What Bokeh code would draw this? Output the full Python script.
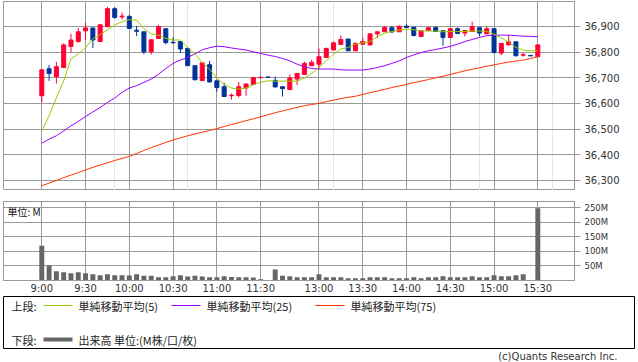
from bokeh.plotting import figure
from bokeh.models import (Range1d, FixedTicker, NumeralTickFormatter, PrintfTickFormatter,
                          ColumnDataSource, Label, Grid)
from bokeh.layouts import column
from bokeh.embed import file_html
from bokeh.resources import INLINE
from bokeh.core.properties import value

# ---------------- data (5-minute bars, slot index; slot 31 = lunch filler) ----------------
slots = list(range(69))

tick_slots = [0, 6, 12, 18, 24, 30, 38, 44, 50, 56, 62, 68]
tick_labels = ["9:00", "9:30", "10:00", "10:30", "11:00", "11:30",
               "13:00", "13:30", "14:00", "14:30", "15:00", "15:30"]

opens = [36630, 36735, 36704, 36740, 36822, 36841, 36883, 36894, 36841, 36899,
         36969, 36937, 36939, 36885, 36879, 36801, 36853, 36891, 36838, 36841,
         36814, 36747, 36689, 36751, 36688, 36665, 36630, 36631, 36660, 36674,
         36700, 36703, 36690, 36665, 36654, 36695, 36713, 36747, 36753, 36779,
         36808, 36830, 36851, 36805, 36831, 36828, 36871, 36879, 36895, 36879,
         36901, 36897, 36861, 36884, 36896, 36883, 36857, 36891, 36874, 36880,
         36895, 36871, 36891, 36796, 36828, 36840, 36788, 36787, 36782]
highs = [36731, 36750, 36762, 36834, 36871, 36894, 36914, 36894, 36910, 36976,
         36976, 36954, 36945, 36902, 36879, 36848, 36906, 36891, 36857, 36841,
         36818, 36747, 36758, 36766, 36688, 36680, 36639, 36684, 36676, 36704,
         36703, 36703, 36705, 36665, 36712, 36717, 36763, 36770, 36814, 36818,
         36841, 36865, 36851, 36837, 36856, 36871, 36879, 36902, 36902, 36905,
         36910, 36897, 36883, 36898, 36899, 36883, 36891, 36896, 36884, 36918,
         36895, 36899, 36891, 36834, 36866, 36840, 36797, 36787, 36828]
lows = [36604, 36688, 36678, 36740, 36798, 36837, 36847, 36816, 36841, 36899,
        36930, 36927, 36892, 36862, 36792, 36791, 36853, 36830, 36834, 36796,
        36747, 36692, 36689, 36680, 36646, 36627, 36615, 36623, 36630, 36674,
        36699, 36702, 36664, 36627, 36654, 36671, 36713, 36747, 36734, 36779,
        36808, 36830, 36805, 36805, 36827, 36825, 36855, 36879, 36874, 36879,
        36896, 36861, 36861, 36884, 36880, 36825, 36857, 36872, 36861, 36880,
        36861, 36871, 36798, 36788, 36828, 36782, 36782, 36785, 36782]
closes = [36731, 36717, 36743, 36828, 36847, 36879, 36894, 36847, 36906, 36969,
          36935, 36940, 36892, 36881, 36801, 36848, 36899, 36837, 36836, 36812,
          36747, 36692, 36758, 36684, 36662, 36627, 36632, 36665, 36676, 36700,
          36702, 36702, 36664, 36658, 36699, 36717, 36756, 36760, 36782, 36814,
          36836, 36849, 36805, 36834, 36841, 36871, 36879, 36896, 36879, 36900,
          36896, 36865, 36883, 36895, 36880, 36857, 36891, 36872, 36884, 36899,
          36874, 36891, 36798, 36834, 36840, 36786, 36790, 36785, 36828]

ma5 = [36493, 36552, 36622, 36688, 36774, 36793, 36817, 36852, 36868, 36887,
       36906, 36918, 36926, 36925, 36891, 36871, 36866, 36853, 36847, 36847,
       36818, 36792, 36759, 36734, 36699, 36675, 36660, 36656, 36660, 36673,
       36683, 36688, 36687, 36687, 36687, 36687, 36699, 36717, 36740, 36766,
       36792, 36812, 36818, 36831, 36836, 36841, 36860, 36874, 36880, 36886,
       36890, 36887, 36883, 36882, 36882, 36879, 36880, 36880, 36880, 36882,
       36882, 36880, 36870, 36855, 36839, 36818, 36808, 36805, 36805]
ma25 = [36445, 36461, 36474, 36493, 36513, 36530, 36549, 36567, 36584, 36604,
        36621, 36643, 36660, 36669, 36682, 36695, 36714, 36736, 36756, 36769,
        36779, 36793, 36809, 36817, 36823, 36821, 36816, 36812, 36808, 36801,
        36795, 36788, 36783, 36775, 36766, 36753, 36743, 36736, 36734, 36734,
        36734, 36731, 36730, 36730, 36730, 36734, 36740, 36747, 36756, 36766,
        36779, 36789, 36798, 36805, 36810, 36816, 36822, 36831, 36841, 36849,
        36857, 36864, 36866, 36866, 36866, 36864, 36862, 36861, 36860]
ma75 = [36279, 36290, 36300, 36311, 36321, 36331, 36341, 36351, 36360, 36369,
        36378, 36386, 36394, 36405, 36417, 36428, 36438, 36448, 36458, 36466,
        36474, 36481, 36488, 36495, 36502, 36510, 36518, 36525, 36533, 36540,
        36548, 36556, 36564, 36571, 36578, 36585, 36591, 36596, 36600, 36607,
        36613, 36619, 36624, 36628, 36635, 36642, 36648, 36655, 36662, 36668,
        36674, 36681, 36687, 36693, 36700, 36706, 36713, 36720, 36727, 36733,
        36739, 36745, 36750, 36756, 36761, 36765, 36769, 36775, 36782]

volumes_m = [120, 52, 32, 28, 25, 28, 25, 21.5, 18, 21.5,
             18, 18, 17, 21.5, 16, 16, 11, 11, 15, 18,
             14, 16, 14, 11, 11, 15, 12, 11, 11, 10,
             4.5, 0, 38, 16, 15, 11, 11, 11, 21.5, 11,
             11, 11, 8, 8, 8, 11, 11, 11, 8, 8,
             8, 11, 8, 11, 11, 15, 11, 11, 11, 15,
             11, 11, 18, 15, 15, 18, 21.5, 2, 249]

price_ticks = [36300, 36400, 36500, 36600, 36700, 36800, 36900]
volume_ticks = [50, 100, 150, 200, 250]

legend_labels = ["単純移動平均(5)", "単純移動平均(25)", "単純移動平均(75)"]
volume_legend_label = "出来高 単位:(M株/口/枚)"

# ---------------- styles ----------------
UP = "#FF0033"
DOWN = "#003399"
MA_COLORS = ["#99CC00", "#9900FF", "#FF3300"]
VOL_COLOR = "#666666"
GRID = "#999999"
TXT = "#333333"
JP_FONT = "Noto Sans CJK JP"
LAT_FONT = "DejaVu Sans"

x_range = Range1d(-5.25, 73.03)

# ---------------- price chart ----------------
p = figure(frame_width=571, frame_height=189, x_range=x_range, y_range=Range1d(36261, 36997),
           x_axis_location=None, y_axis_location="right", toolbar_location=None,
           output_backend="svg", min_border_left=3, min_border_right=64,
           min_border_top=1, min_border_bottom=0, outline_line_color=GRID,
           background_fill_color="white", border_fill_color="white")
p.add_layout(Grid(dimension=0, ticker=FixedTicker(ticks=tick_slots),
                  grid_line_color=GRID, grid_line_width=1))
p.yaxis.ticker = FixedTicker(ticks=price_ticks)
p.yaxis.formatter = NumeralTickFormatter(format="0,0")
p.ygrid.grid_line_color = GRID

colors = [UP if c >= o else DOWN for o, c in zip(opens, closes)]
src = ColumnDataSource(dict(
    x=slots, h=highs, l=lows,
    top=[max(o, c) for o, c in zip(opens, closes)],
    bottom=[min(o, c) for o, c in zip(opens, closes)],
    color=colors))
p.segment(x0="x", y0="h", x1="x", y1="l", source=src, line_color="color", line_width=1)
p.vbar(x="x", width=0.55, top="top", bottom="bottom", source=src,
       fill_color="color", line_color="color", line_width=1)

p.line(slots, ma75, line_color=MA_COLORS[2], line_width=1)
p.line(slots, ma25, line_color=MA_COLORS[1], line_width=1)
p.line(slots, ma5, line_color=MA_COLORS[0], line_width=1)

# ---------------- volume chart ----------------
v = figure(frame_width=571, frame_height=79, x_range=x_range, y_range=Range1d(0, 272),
           y_axis_location="right", toolbar_location=None, output_backend="svg",
           min_border_left=3, min_border_right=64, min_border_top=11, min_border_bottom=14,
           outline_line_color=GRID, background_fill_color="white", border_fill_color="white")
v.xaxis.ticker = FixedTicker(ticks=tick_slots)
v.xaxis.major_label_overrides = {s: l for s, l in zip(tick_slots, tick_labels)}
v.yaxis.ticker = FixedTicker(ticks=volume_ticks)
v.yaxis.formatter = PrintfTickFormatter(format="%dM")
v.grid.grid_line_color = GRID
v.vbar(x=slots, top=volumes_m, width=0.68, fill_color=VOL_COLOR, line_color=None)
v.add_layout(Label(x=-4.7, y=262, text="単位: M", text_baseline="top",
                   text_font=JP_FONT, text_font_size="10px", text_color="#111111"))

for ax in (p.yaxis[0], v.yaxis[0]):
    ax.major_tick_out = 6
    ax.major_tick_in = 0
    ax.minor_tick_line_color = None
    ax.axis_line_color = GRID
    ax.major_tick_line_color = GRID
    ax.major_label_standoff = 4
    ax.major_label_text_font = LAT_FONT
    ax.major_label_text_color = TXT
p.yaxis.major_label_text_font_size = "10px"
v.yaxis.major_label_text_font_size = "8.5px"

xa = v.xaxis[0]
xa.major_tick_out = 0
xa.major_tick_in = 0
xa.minor_tick_line_color = None
xa.axis_line_color = GRID
xa.major_label_standoff = 2
xa.major_label_text_font = LAT_FONT
xa.major_label_text_font_size = "10px"
xa.major_label_text_color = TXT

# ---------------- legend box ----------------
lg = figure(frame_width=631, frame_height=53, x_range=Range1d(0, 631), y_range=Range1d(53, 0),
            x_axis_location=None, y_axis_location=None, toolbar_location=None,
            output_backend="svg", min_border_left=3, min_border_right=4,
            min_border_top=0, min_border_bottom=0, outline_line_color="#000000",
            background_fill_color="white", border_fill_color="white")
lg.grid.visible = False
row1, row2 = 9, 43
line_x0 = [40, 168, 312]
lg.segment(x0=line_x0, y0=[row1] * 3, x1=[x + 29 for x in line_x0], y1=[row1] * 3,
           line_color=MA_COLORS, line_width=1)
lg.segment(x0=[40], y0=[row2], x1=[69], y1=[row2], line_color=VOL_COLOR, line_width=4)
lg.text(x=[8, 8] + [x + 35 for x in line_x0] + [75],
        y=[row1, row2] + [row1] * 3 + [row2],
        text=["上段:", "下段:"] + legend_labels + [volume_legend_label],
        text_font=value(JP_FONT), text_font_size=value("11px"),
        text_baseline="middle", text_align="left", text_color="#222222")

# ---------------- copyright ----------------
cp = figure(frame_width=631, frame_height=15, x_range=Range1d(0, 631), y_range=Range1d(15, 0),
            x_axis_location=None, y_axis_location=None, toolbar_location=None,
            output_backend="svg", min_border_left=3, min_border_right=4,
            min_border_top=0, min_border_bottom=0, outline_line_color=None,
            background_fill_color="white", border_fill_color="white")
cp.grid.visible = False
cp.text(x=[614], y=[7], text=["(c)Quants Research Inc."], text_align="right",
        text_baseline="middle", text_font=value(LAT_FONT), text_font_size=value("10px"),
        text_color=TXT)

layout = column(p, v, lg, cp, spacing=0)
open("out.html", "w").write(file_html(layout, INLINE))
